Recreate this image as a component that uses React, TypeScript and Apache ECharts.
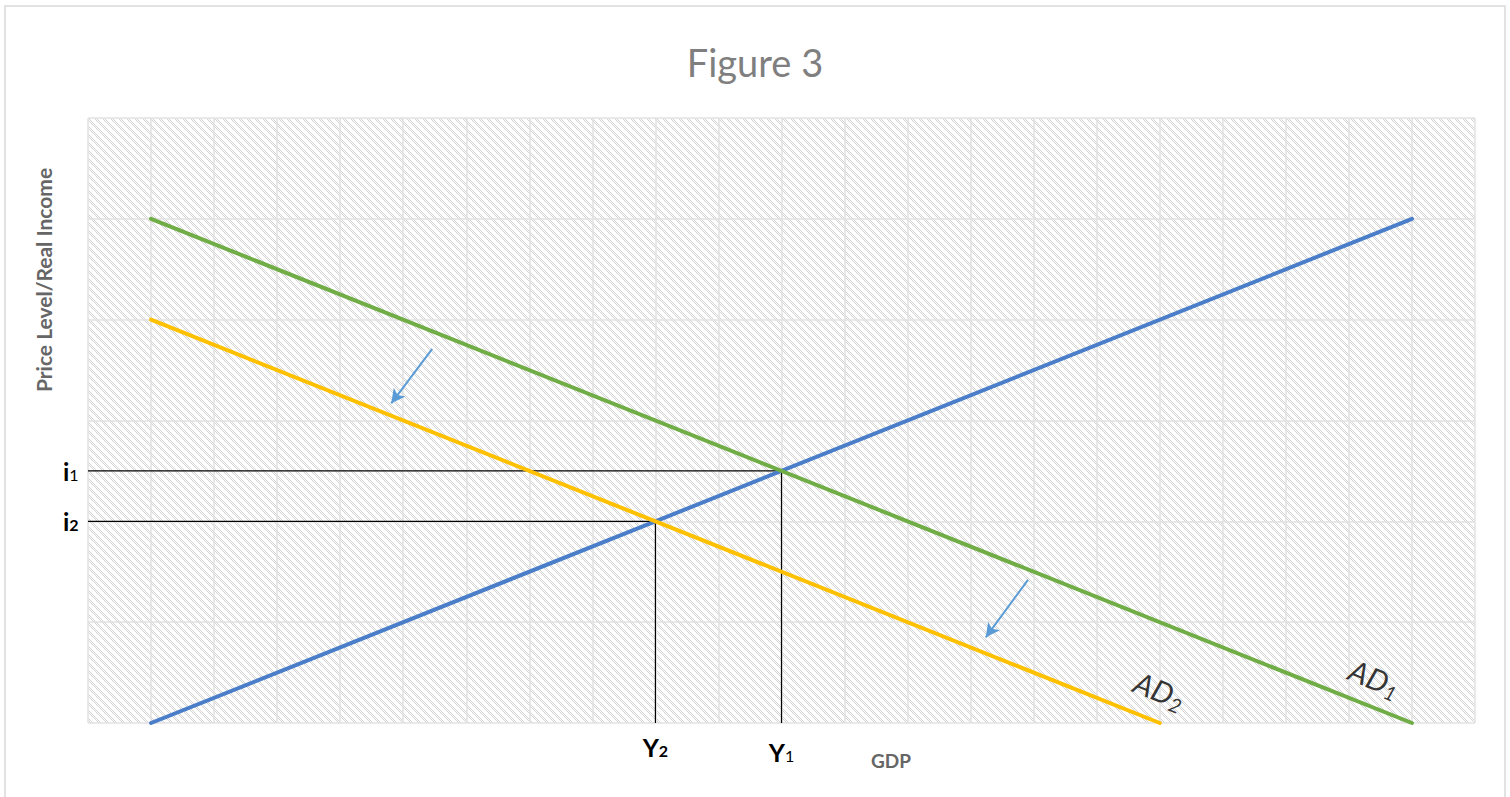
import React, { useEffect, useRef } from "react";
import * as echarts from "echarts";

// Curves (x = category position, y = level)
const srasX = [1, 21];
const srasY = [0, 5];
const ad1X = [1, 21];
const ad1Y = [5, 0];
const ad2X = [1, 17];
const ad2Y = [4, 0];

// Equilibria
const eq1 = { x: 11, y: 2.5 };
const eq2 = { x: 9, y: 2 };

// Shift arrows [fromX, fromY, toX, toY]
const arrow1 = [5.46, 3.71, 4.81, 3.17];
const arrow2 = [14.91, 1.42, 14.24, 0.85];

// AD label positions
const ad1LabelPos = [20.41, 0.45];
const ad2LabelPos = [17.0, 0.33];

const xMin = 0, xMax = 22, yMin = 0, yMax = 6;

const FONT = "Lato, 'Open Sans', sans-serif";

function zip(xs: number[], ys: number[]) {
  return xs.map((x, i) => [x, ys[i]]);
}

export default function App() {
  const ref = useRef<HTMLDivElement>(null);
  useEffect(() => {
    if (!ref.current) return;
    const chart = echarts.init(ref.current, null, { renderer: "svg" });

    const N = 8;
    const c = document.createElement("canvas");
    c.width = N;
    c.height = N;
    const ctx = c.getContext("2d")!;
    ctx.fillStyle = "#ffffff";
    ctx.fillRect(0, 0, N, N);
    ctx.fillStyle = "#d4d4d4";
    for (let y = 0; y < N; y++) {
      for (let k = 0; k < 3; k++) {
        const x = (y + k) % N;
        if ((x + y) % 2 === 0) ctx.fillRect(x, y, 1, 1);
      }
    }

    const lineStyleBase = { width: 4, cap: "round" as const };

    const refLabel = (letter: string, sub: string, pos: string, dist: number) => ({
      show: true,
      position: pos,
      distance: dist,
      formatter: `{b|${letter}}{s|${sub}}`,
      rich: {
        b: { fontFamily: FONT, fontWeight: "bold", fontSize: 25, color: "#000" },
        s: { fontFamily: FONT, fontWeight: sub === "2" ? "bold" : "normal", fontSize: 16, color: "#000", padding: [7, 0, 0, 0] },
      },
    });

    const adLabel = (sub: string) => ({
      show: true,
      position: "inside",
      rotate: -22,
      formatter: `{a|AD}{s|${sub}}`,
      rich: {
        a: { fontFamily: FONT, fontStyle: "italic", fontSize: 30, color: "#000" },
        s: { fontFamily: FONT, fontStyle: "italic", fontSize: 20, color: "#000", padding: [16, 0, 0, 0] },
      },
    });

    const refSeries = (eq: { x: number; y: number }, sub: string, yDist: number) => ({
      type: "line",
      data: [
        { value: [xMin, eq.y], label: refLabel("i", sub, "left", 9) },
        { value: [eq.x, eq.y] },
        { value: [eq.x, yMin], label: refLabel("Y", sub, "bottom", yDist) },
      ],
      symbol: "circle",
      symbolSize: 1,
      showSymbol: true,
      itemStyle: { color: "rgba(0,0,0,0)" },
      label: { show: false },
      lineStyle: { color: "#000", width: 1.2 },
      z: 3,
      clip: false,
    });

    const option: any = {
      animation: false,
      title: {
        text: "Figure 3",
        left: "center",
        top: 38,
        textStyle: { fontFamily: FONT, fontSize: 38, fontWeight: "normal", color: "#7f7f7f" },
      },
      grid: {
        left: 88,
        right: 35,
        top: 118,
        bottom: 74,
        show: true,
        borderWidth: 0,
        backgroundColor: { image: c, repeat: "repeat" },
      },
      xAxis: {
        type: "value",
        min: xMin,
        max: xMax,
        interval: 1,
        axisLabel: { show: false },
        axisTick: { show: false },
        axisLine: { show: false },
        splitLine: { show: true, lineStyle: { color: "#e2e2e2", width: 1.5 } },
      },
      yAxis: {
        type: "value",
        min: yMin,
        max: yMax,
        interval: 1,
        axisLabel: { show: false },
        axisTick: { show: false },
        axisLine: { show: false },
        splitLine: { show: true, lineStyle: { color: "#e2e2e2", width: 1.5 } },
      },
      graphic: [
        {
          type: "rect",
          shape: { x: 5, y: 6, width: 1500, height: 800 },
          style: { fill: "none", stroke: "#d9d9d9", lineWidth: 1.5 },
          silent: true,
          z: -10,
        },
        {
          type: "text",
          x: 43,
          y: 280,
          rotation: Math.PI / 2,
          style: {
            text: "Price Level/Real Income",
            fontFamily: FONT,
            fontWeight: "bold",
            fontSize: 21,
            fill: "#666666",
            align: "center",
            verticalAlign: "middle",
          },
        },
        {
          type: "text",
          x: 891,
          y: 760,
          style: {
            text: "GDP",
            fontFamily: FONT,
            fontWeight: "bold",
            fontSize: 19,
            fill: "#666666",
            align: "center",
            verticalAlign: "middle",
          },
        },
      ],
      series: [
        refSeries(eq1, "1", 16),
        refSeries(eq2, "2", 11),
        {
          type: "line",
          name: "SRAS",
          data: zip(srasX, srasY),
          symbol: "none",
          lineStyle: { ...lineStyleBase, color: "#4a7ec9" },
          z: 4,
        },
        {
          type: "line",
          name: "AD1",
          data: zip(ad1X, ad1Y),
          symbol: "none",
          lineStyle: { ...lineStyleBase, color: "#70ad47" },
          z: 4,
          markLine: {
            silent: true,
            symbol: ["none", "arrow"],
            symbolSize: [11, 14],
            label: { show: false },
            lineStyle: { color: "#5b9bd5", width: 2, type: "solid" },
            data: [
              [{ coord: [arrow1[0], arrow1[1]] }, { coord: [arrow1[2], arrow1[3]] }],
              [{ coord: [arrow2[0], arrow2[1]] }, { coord: [arrow2[2], arrow2[3]] }],
            ],
          },
        },
        {
          type: "line",
          name: "AD2",
          data: zip(ad2X, ad2Y),
          symbol: "none",
          lineStyle: { ...lineStyleBase, color: "#ffc000" },
          z: 4,
        },
        {
          type: "scatter",
          symbolSize: 0,
          data: [
            { value: ad1LabelPos, label: adLabel("1") },
            { value: ad2LabelPos, label: adLabel("2") },
          ],
          z: 5,
        },
      ],
    };
    chart.setOption(option);
    return () => chart.dispose();
  }, []);
  return (
    <div
      ref={ref}
      style={{ position: "absolute", left: 0, top: 0, width: 1510, height: 797, background: "#fff" }}
    />
  );
}
